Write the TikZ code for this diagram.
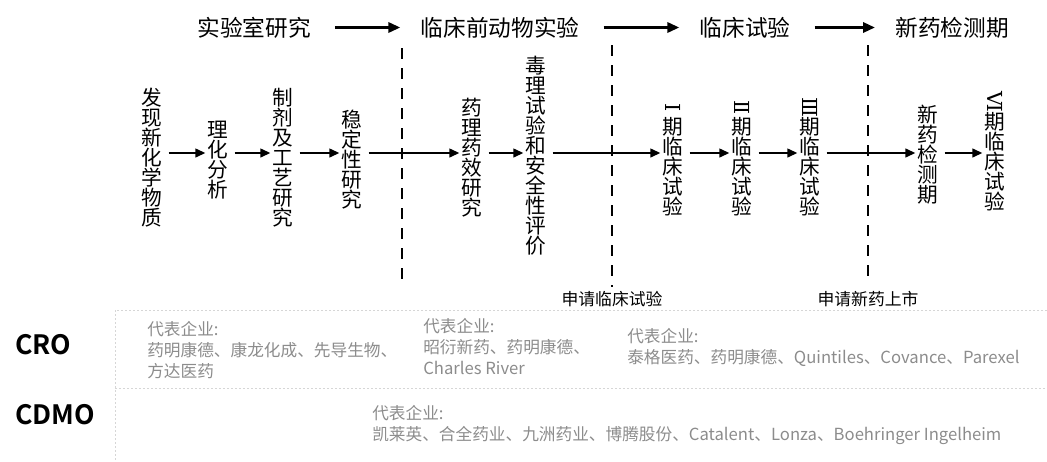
\documentclass[tikz,border=0pt]{standalone}
\usepackage{fontspec}
\setmainfont{Noto Sans CJK SC}[BoldFont={Noto Sans CJK SC Bold}]
\newfontfamily\numfont{DejaVu Serif}
\usetikzlibrary{arrows.meta}
\definecolor{greytxt}{HTML}{8C8C8C}
\definecolor{gridc}{HTML}{D6D6D6}
\newcommand{\rnum}[1]{\vphantom{期}\smash{\rotatebox[origin=c]{-90}{\numfont\fontsize{15.5}{15}\selectfont #1}}}
\tikzset{
  vtext/.style={align=center, font=\fontsize{15.5}{15}\selectfont, inner sep=0pt},
  head/.style={font=\fontsize{17}{20}\selectfont, inner sep=0pt},
  flow/.style={-{Triangle[length=7.5pt,width=6.5pt]}, line width=1.5pt, shorten <=4.5pt, shorten >=1.5pt},
  bigarrow/.style={-{Triangle[length=9pt,width=7.5pt]}, line width=2.25pt, shorten <=18pt, shorten >=15pt},
  divider/.style={dash pattern=on 8.25pt off 6.75pt, line width=1.5pt},
  apply/.style={font=\fontsize{12.6}{14}\selectfont, inner sep=0pt},
  gridline/.style={gridc, line width=0.75pt, dash pattern=on 1.5pt off 1.5pt},
  firm/.style={greytxt, align=left, anchor=north west, font=\fontsize{12.5}{15.75}\selectfont, inner sep=0pt},
  sector/.style={font=\fontsize{20}{22}\selectfont\bfseries, inner sep=0pt, anchor=west},
}
\begin{document}
\begin{tikzpicture}[x=0.75pt,y=-0.75pt]
\useasboundingbox (0,0) rectangle (1047,461);
% header
\node[head] (h1) at (254,27.5) {实验室研究};
\node[head] (h2) at (500,27.5) {临床前动物实验};
\node[head] (h3) at (745,27.5) {临床试验};
\node[head] (h4) at (952,27.5) {新药检测期};
\draw[bigarrow] (h1) -- (h2);
\draw[bigarrow] (h2) -- (h3);
\draw[bigarrow] (h3) -- (h4);
% dividers
\coordinate (d1t) at (402,48); \coordinate (d1b) at (402,281);
\coordinate (d2t) at (612,45); \coordinate (d2b) at (612,287);
\coordinate (d3t) at (868,45); \coordinate (d3b) at (868,281);
\draw[divider] (d1t) -- (d1b);
\draw[divider] (d2t) -- (d2b);
\draw[divider] (d3t) -- (d3b);
% stages
\coordinate (axis) at (0,153);
\node[vtext] (s1) at (152,157.5) {发\\现\\新\\化\\学\\物\\质};
\node[vtext] (s2) at (218,160) {理\\化\\分\\析};
\node[vtext] (s3) at (283,158) {制\\剂\\及\\工\\艺\\研\\究};
\node[vtext] (s4) at (352,160) {稳\\定\\性\\研\\究};
\node[vtext] (s5) at (472,158) {药\\理\\药\\效\\研\\究};
\node[vtext] (s6) at (536,156) {毒\\理\\试\\验\\和\\安\\全\\性\\评\\价};
\node[vtext] (s7) at (673,157) {\rnum{Ⅰ}\\期\\临\\床\\试\\验};
\node[vtext] (s8) at (742,157) {\rnum{Ⅱ}\\期\\临\\床\\试\\验};
\node[vtext] (s9) at (810,157) {\rnum{Ⅲ}\\期\\临\\床\\试\\验};
\node[vtext] (s10) at (928,155) {新\\药\\检\\测\\期};
\node[vtext] (s11) at (995,151.5) {\rnum{Ⅵ}\\期\\临\\床\\试\\验};
\foreach \a/\b in {s1/s2,s2/s3,s3/s4,s4/s5,s5/s6,s6/s7,s7/s8,s8/s9,s9/s10,s10/s11}
  \draw[flow] (\a.east |- axis) -- (\b.west |- axis);
% applications
\node[apply] (ap1) at (612,299) {申请临床试验};
\node[apply] (ap2) at (868,299) {申请新药上市};
% lower table
\draw[gridline] (1047,310) -- (115,310) -- (115,461);
\draw[gridline] (115,388) -- (1047,388);
\node[sector] (cro) at (15,345) {CRO};
\node[sector] (cdmo) at (15,415) {CDMO};
\node[firm] (f1) at (147,321) {代表企业:\\药明康德、康龙化成、先导生物、\\方达医药};
\node[firm] (f2) at (423,318) {代表企业:\\昭衍新药、药明康德、\\Charles River};
\node[firm] (f3) at (627,328) {代表企业:\\泰格医药、药明康德、Quintiles、Covance、Parexel};
\node[firm] (f4) at (372,405) {代表企业:\\凯莱英、合全药业、九洲药业、博腾股份、Catalent、Lonza、Boehringer Ingelheim};
\end{tikzpicture}
\end{document}
